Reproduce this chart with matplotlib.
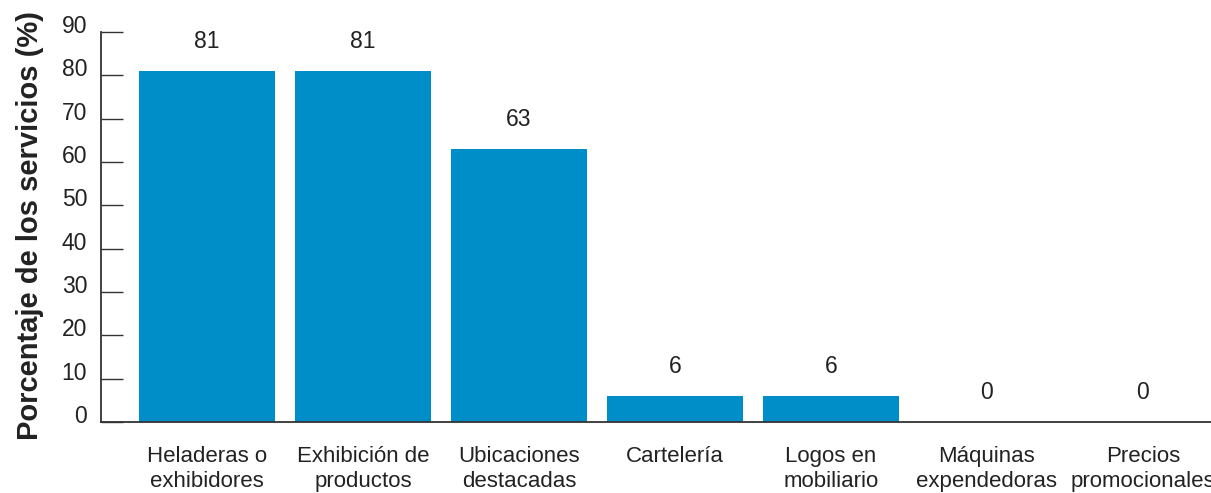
import matplotlib
matplotlib.use("Agg")
import matplotlib.pyplot as plt
import matplotlib.transforms as mtransforms

categories = ["Heladeras o\nexhibidores", "Exhibición de\nproductos", "Ubicaciones\ndestacadas",
              "Cartelería", "Logos en\nmobiliario", "Máquinas\nexpendedoras", "Precios\npromocionales"]
values = [81, 81, 63, 6, 6, 0, 0]
yticks = [0, 10, 20, 30, 40, 50, 60, 70, 80, 90]

plt.rcParams['font.family'] = ['Liberation Sans', 'DejaVu Sans']

fig = plt.figure(figsize=(12.11, 4.93), dpi=100)
W, H = 1211, 493
left_px, right_px = 101, 1211
bottom_px, top_px = 422, 32
ax = fig.add_axes([left_px / W, 1 - bottom_px / H, (right_px - left_px) / W, (bottom_px - top_px) / H])

x = list(range(len(categories)))
color = '#008ec9'
ax.bar(x, values, width=0.87, color=color, zorder=2)

fs = 16.5
ax.set_xlim(-106 / 156, (1211 - 207) / 156)
ax.set_ylim(0, 90)
ax.set_yticks(yticks)
ax.set_yticklabels([str(t) for t in yticks], fontsize=fs, color='#222222')
ax.tick_params(axis='y', direction='in', length=16, width=1.0, color='#333333', pad=10)
offset = mtransforms.ScaledTranslation(0, 8 / 100, fig.dpi_scale_trans)
for lbl in ax.get_yticklabels():
    lbl.set_transform(lbl.get_transform() + offset)

ax.set_xticks(x)
ax.set_xticklabels(categories, fontsize=16, color='#222222', linespacing=1.25)
ax.tick_params(axis='x', length=0, pad=17)

for s in ['top', 'right']:
    ax.spines[s].set_visible(False)
for s in ['left', 'bottom']:
    ax.spines[s].set_color('#333333')
    ax.spines[s].set_linewidth(1.3)

for xi, v in zip(x, values):
    ax.annotate(str(v), (xi, v), xytext=(0, 13), textcoords='offset points',
                ha='center', va='bottom', fontsize=fs, color='#222222')

fig.text(30 / W, 1 - 226 / H, "Porcentaje de los servicios (%)", rotation=90,
         ha='center', va='center', fontsize=21, fontweight='bold', color='#222222')

fig.savefig("out.png", dpi=100)
